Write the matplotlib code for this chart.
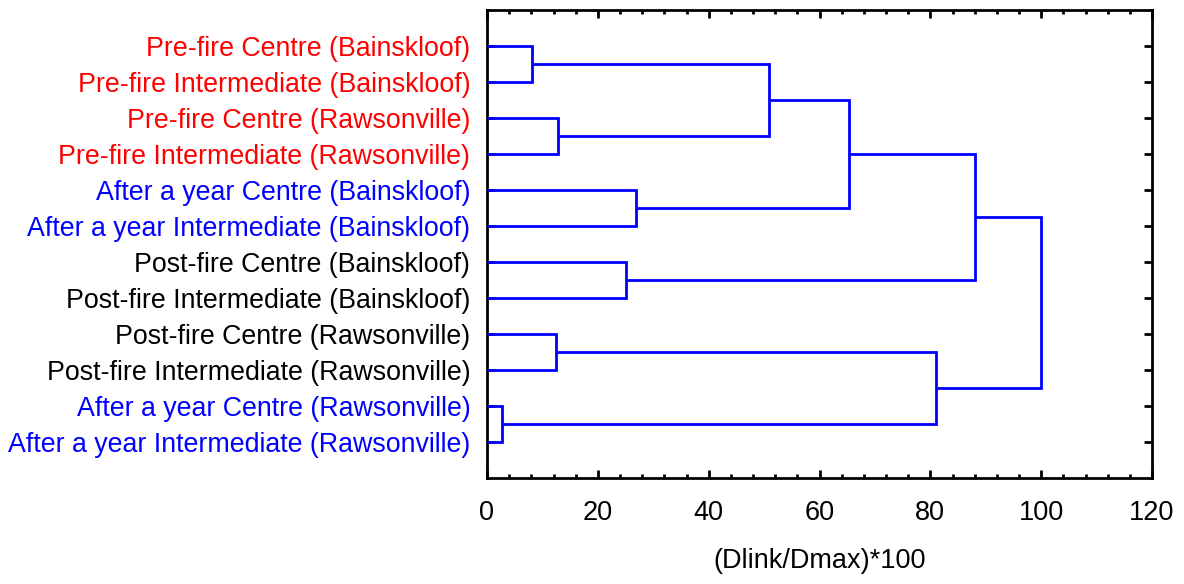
import matplotlib
matplotlib.use("Agg")
import matplotlib.pyplot as plt
from matplotlib.ticker import MultipleLocator

plt.rcParams['font.family'] = ['Liberation Sans', 'DejaVu Sans']

# Leaves, top to bottom
labels = [
    "Pre-fire Centre (Bainskloof)",
    "Pre-fire Intermediate (Bainskloof)",
    "Pre-fire Centre (Rawsonville)",
    "Pre-fire Intermediate (Rawsonville)",
    "After a year Centre (Bainskloof)",
    "After a year Intermediate (Bainskloof)",
    "Post-fire Centre (Bainskloof)",
    "Post-fire Intermediate (Bainskloof)",
    "Post-fire Centre (Rawsonville)",
    "Post-fire Intermediate (Rawsonville)",
    "After a year Centre (Rawsonville)",
    "After a year Intermediate (Rawsonville)",
]
label_colors = ["red"] * 4 + ["blue"] * 2 + ["black"] * 4 + ["blue"] * 2

# Linkage steps: nodes 0..11 are leaves; step k creates node 12 + k
merge_a = [0, 2, 12, 4, 14, 6, 16, 8, 10, 19, 18]
merge_b = [1, 3, 13, 5, 15, 7, 17, 9, 11, 20, 21]
merge_h = [8.1, 12.8, 50.9, 26.9, 65.3, 25.1, 88.1, 12.5, 2.7, 81.0, 100.0]

fig = plt.figure(figsize=(11.84, 5.84), dpi=100)
ax = fig.add_axes([487 / 1184, 1 - 478 / 584, (1152 - 487) / 1184, (478 - 10) / 584])

n = len(labels)
nodes = [(0.0, i + 1.0) for i in range(n)]  # (height, y)
for a, b, h in zip(merge_a, merge_b, merge_h):
    ha, ya = nodes[a]
    hb, yb = nodes[b]
    ax.plot([ha, h, h, hb], [ya, ya, yb, yb], color=(0, 0, 1), lw=2,
            solid_joinstyle='miter', solid_capstyle='butt', zorder=3)
    nodes.append((h, (ya + yb) / 2))

ax.set_xlim(0, 120)
ax.set_ylim(n + 1, 0)
ax.xaxis.set_major_locator(MultipleLocator(20))
ax.xaxis.set_minor_locator(MultipleLocator(4))
ax.set_yticks(range(1, n + 1))
ax.set_yticklabels(labels)
for t, c in zip(ax.get_yticklabels(), label_colors):
    t.set_color(c)

ax.tick_params(axis='both', which='both', direction='in', top=True, right=True,
               width=2, color='black')
ax.tick_params(axis='x', which='major', length=6, labelsize=19.5, pad=16)
ax.tick_params(axis='x', which='minor', length=3)
ax.tick_params(axis='y', which='major', length=6, labelsize=19.3, pad=12)
for s in ax.spines.values():
    s.set_linewidth(2)

ax.set_xlabel("(Dlink/Dmax)*100", fontsize=19.5, labelpad=16)

fig.savefig("out.png", dpi=100)
